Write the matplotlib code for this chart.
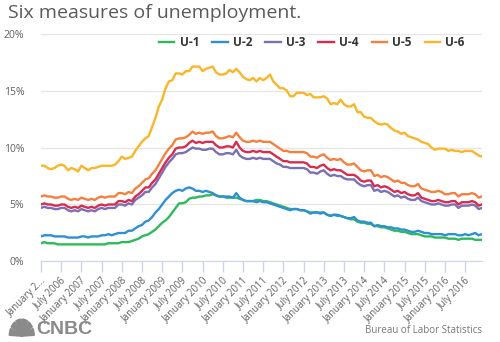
import matplotlib.pyplot as plt
from matplotlib.patches import Wedge
import pandas as pd

# Monthly rates, January 2006 - December 2016 (percent)
u1 = [1.6, 1.7, 1.6, 1.6, 1.6, 1.5, 1.5, 1.5, 1.5, 1.5, 1.5, 1.5,
      1.5, 1.5, 1.5, 1.5, 1.5, 1.5, 1.5, 1.5, 1.6, 1.6, 1.6, 1.6,
      1.7, 1.7, 1.7, 1.8, 1.9, 2.0, 2.2, 2.3, 2.4, 2.6, 2.8, 3.1,
      3.4, 3.6, 3.9, 4.3, 4.7, 5.1, 5.1, 5.2, 5.5, 5.6, 5.6, 5.7,
      5.7, 5.8, 5.8, 5.9, 5.8, 5.7, 5.7, 5.6, 5.6, 5.6, 5.6, 5.5,
      5.4, 5.3, 5.3, 5.3, 5.4, 5.4, 5.3, 5.3, 5.2, 5.1, 5.0, 4.9,
      4.8, 4.7, 4.6, 4.6, 4.6, 4.5, 4.5, 4.4, 4.3, 4.3, 4.3, 4.3,
      4.3, 4.1, 4.0, 4.1, 4.0, 4.0, 3.9, 3.8, 3.7, 3.7, 3.5, 3.4,
      3.4, 3.3, 3.3, 3.1, 3.1, 3.0, 3.0, 2.9, 2.8, 2.7, 2.7, 2.6,
      2.6, 2.5, 2.4, 2.4, 2.4, 2.3, 2.2, 2.2, 2.2, 2.1, 2.1, 2.1,
      2.1, 2.0, 2.0, 2.0, 1.9, 2.0, 2.0, 2.0, 2.0, 1.9, 1.9, 1.9]

u2 = [2.2, 2.3, 2.3, 2.3, 2.2, 2.2, 2.2, 2.2, 2.1, 2.1, 2.1, 2.1,
      2.2, 2.2, 2.1, 2.2, 2.2, 2.2, 2.3, 2.3, 2.4, 2.3, 2.4, 2.5,
      2.5, 2.5, 2.7, 2.7, 2.9, 3.1, 3.2, 3.5, 3.6, 3.9, 4.3, 4.6,
      5.0, 5.4, 5.7, 6.0, 6.2, 6.3, 6.2, 6.4, 6.5, 6.4, 6.2, 6.2,
      6.1, 6.2, 6.1, 6.0, 5.8, 5.7, 5.7, 5.7, 5.7, 5.6, 6.0, 5.6,
      5.4, 5.3, 5.3, 5.3, 5.2, 5.3, 5.2, 5.2, 5.1, 5.0, 4.9, 4.8,
      4.7, 4.6, 4.5, 4.6, 4.6, 4.5, 4.5, 4.4, 4.2, 4.3, 4.3, 4.2,
      4.3, 4.1, 4.0, 4.1, 4.1, 4.0, 3.9, 3.8, 3.8, 3.9, 3.6, 3.5,
      3.5, 3.4, 3.4, 3.1, 3.2, 3.1, 3.1, 3.0, 3.0, 2.9, 2.9, 2.8,
      2.8, 2.7, 2.6, 2.6, 2.7, 2.6, 2.5, 2.5, 2.4, 2.4, 2.4, 2.4,
      2.3, 2.4, 2.4, 2.4, 2.3, 2.3, 2.4, 2.3, 2.4, 2.5, 2.3, 2.4]

u3 = [4.7, 4.8, 4.7, 4.7, 4.6, 4.6, 4.7, 4.7, 4.5, 4.4, 4.5, 4.4,
      4.6, 4.5, 4.4, 4.5, 4.4, 4.6, 4.7, 4.6, 4.7, 4.7, 4.7, 5.0,
      5.0, 4.9, 5.1, 5.0, 5.4, 5.6, 5.8, 6.1, 6.1, 6.5, 6.8, 7.3,
      7.8, 8.3, 8.7, 9.0, 9.4, 9.5, 9.5, 9.6, 9.8, 10.0, 9.9, 9.9,
      9.8, 9.8, 9.9, 9.9, 9.6, 9.4, 9.4, 9.5, 9.5, 9.4, 9.8, 9.3,
      9.1, 9.0, 9.0, 9.1, 9.0, 9.1, 9.0, 9.0, 9.0, 8.8, 8.6, 8.5,
      8.3, 8.3, 8.2, 8.2, 8.2, 8.2, 8.2, 8.1, 7.8, 7.8, 7.7, 7.9,
      8.0, 7.7, 7.5, 7.6, 7.5, 7.5, 7.3, 7.2, 7.2, 7.2, 6.9, 6.7,
      6.6, 6.7, 6.7, 6.2, 6.3, 6.1, 6.2, 6.1, 5.9, 5.7, 5.8, 5.6,
      5.7, 5.5, 5.4, 5.4, 5.6, 5.3, 5.2, 5.1, 5.0, 5.0, 5.1, 5.0,
      4.9, 4.9, 5.0, 5.0, 4.7, 4.9, 4.9, 4.9, 5.0, 4.9, 4.6, 4.7]

u4 = [5.0, 5.1, 5.0, 5.0, 4.9, 4.9, 5.0, 5.0, 4.8, 4.7, 4.8, 4.7,
      4.9, 4.8, 4.7, 4.8, 4.7, 4.9, 5.0, 4.9, 5.0, 5.0, 5.0, 5.3,
      5.3, 5.2, 5.4, 5.3, 5.7, 5.9, 6.2, 6.5, 6.5, 6.9, 7.2, 7.7,
      8.2, 8.7, 9.1, 9.4, 9.9, 10.0, 10.0, 10.1, 10.4, 10.6, 10.4, 10.5,
      10.4, 10.5, 10.5, 10.5, 10.2, 10.0, 10.0, 10.1, 10.1, 10.0, 10.5, 10.0,
      9.7, 9.6, 9.6, 9.7, 9.6, 9.7, 9.6, 9.6, 9.6, 9.4, 9.2, 9.0,
      8.8, 8.8, 8.7, 8.7, 8.7, 8.7, 8.7, 8.6, 8.3, 8.3, 8.2, 8.4,
      8.5, 8.2, 8.0, 8.1, 8.0, 8.0, 7.8, 7.6, 7.6, 7.6, 7.4, 7.1,
      7.0, 7.1, 7.1, 6.6, 6.7, 6.5, 6.6, 6.5, 6.3, 6.1, 6.2, 6.0,
      6.1, 5.9, 5.8, 5.8, 6.0, 5.6, 5.5, 5.4, 5.3, 5.3, 5.4, 5.3,
      5.2, 5.2, 5.3, 5.3, 5.0, 5.2, 5.2, 5.2, 5.3, 5.2, 4.9, 5.0]

u5 = [5.7, 5.8, 5.7, 5.7, 5.6, 5.6, 5.7, 5.7, 5.5, 5.4, 5.5, 5.4,
      5.6, 5.5, 5.4, 5.5, 5.4, 5.6, 5.7, 5.6, 5.7, 5.7, 5.7, 6.0,
      6.0, 5.9, 6.1, 6.0, 6.4, 6.6, 6.9, 7.2, 7.3, 7.7, 8.0, 8.5,
      9.0, 9.5, 9.9, 10.2, 10.7, 10.8, 10.8, 10.9, 11.1, 11.4, 11.2, 11.3,
      11.2, 11.3, 11.3, 11.4, 11.0, 10.8, 10.8, 10.9, 11.0, 10.9, 11.3, 10.9,
      10.6, 10.5, 10.5, 10.6, 10.5, 10.6, 10.5, 10.5, 10.5, 10.3, 10.1, 9.9,
      9.7, 9.7, 9.6, 9.6, 9.6, 9.6, 9.6, 9.5, 9.2, 9.2, 9.1, 9.3,
      9.4, 9.1, 8.9, 9.0, 8.9, 9.0, 8.7, 8.5, 8.5, 8.6, 8.3, 8.0,
      7.9, 8.0, 8.0, 7.5, 7.6, 7.4, 7.5, 7.4, 7.2, 7.0, 7.1, 6.9,
      6.9, 6.7, 6.6, 6.6, 6.8, 6.4, 6.3, 6.2, 6.1, 6.1, 6.2, 6.1,
      5.9, 5.9, 6.0, 6.0, 5.7, 5.9, 5.9, 5.9, 6.0, 5.9, 5.6, 5.7]

u6 = [8.4, 8.4, 8.2, 8.1, 8.2, 8.4, 8.5, 8.4, 8.0, 8.2, 8.1, 7.9,
      8.4, 8.2, 8.0, 8.2, 8.2, 8.3, 8.4, 8.4, 8.4, 8.4, 8.5, 8.8,
      9.2, 9.0, 9.1, 9.2, 9.7, 10.1, 10.5, 10.8, 11.0, 11.8, 12.6, 13.6,
      14.2, 15.2, 15.8, 15.9, 16.5, 16.5, 16.4, 16.7, 16.7, 17.1, 17.1, 17.1,
      16.7, 16.9, 17.0, 17.1, 16.6, 16.4, 16.4, 16.5, 16.8, 16.6, 16.9, 16.6,
      16.2, 16.0, 15.9, 16.1, 15.8, 16.1, 15.9, 16.1, 16.4, 15.8, 15.5, 15.2,
      15.2, 15.0, 14.5, 14.5, 14.8, 14.8, 14.8, 14.6, 14.7, 14.4, 14.4, 14.4,
      14.5, 14.3, 13.8, 13.9, 13.8, 14.2, 13.8, 13.6, 13.6, 13.8, 13.1, 13.1,
      12.7, 12.6, 12.6, 12.3, 12.1, 12.0, 12.1, 12.0, 11.7, 11.5, 11.4, 11.2,
      11.3, 11.0, 10.9, 10.8, 10.7, 10.5, 10.4, 10.3, 10.0, 9.8, 9.9, 9.9,
      9.9, 9.7, 9.8, 9.7, 9.7, 9.6, 9.7, 9.7, 9.7, 9.5, 9.3, 9.2]

series = [("U-1", u1, "#2dba5a"), ("U-2", u2, "#2f8fd5"), ("U-3", u3, "#7b6fb6"),
          ("U-4", u4, "#d72c4f"), ("U-5", u5, "#f5803e"), ("U-6", u6, "#fbb528")]

tick_labels = ["January 2...", "July 2006", "January 2007", "July 2007",
               "January 2008", "July 2008", "January 2009", "July 2009",
               "January 2010", "July 2010", "January 2011", "July 2011",
               "January 2012", "July 2012", "January 2013", "July 2013",
               "January 2014", "July 2014", "January 2015", "July 2015",
               "January 2016", "July 2016"]

months = pd.date_range("2006-01-01", periods=len(u1), freq="MS")
x = range(len(months))

plt.rcParams['font.family'] = ['Open Sans', 'DejaVu Sans']
fig = plt.figure(figsize=(5, 3.42), dpi=100)
ax = fig.add_axes([0.082, 0.2354, 0.882, 0.6666])

for name, vals, color in series:
    ax.plot(x, vals, color=color, lw=1.7, label=name, solid_joinstyle='round')

ax.set_xlim(0, len(months) - 1)
ax.set_ylim(0, 20)
ax.set_yticks([0, 5, 10, 15, 20])
ax.set_yticklabels(["0%", "5%", "10%", "15%", "20%"], fontsize=7.5, color="#606060")
ax.tick_params(axis='y', length=0, pad=12)
ax.yaxis.grid(True, color="#e6e6e6", lw=1)
ax.set_axisbelow(True)

ax.set_xticks(range(0, len(months), 6))
ax.set_xticklabels(tick_labels, rotation=45, ha='right', rotation_mode='anchor',
                   fontsize=7, color="#606060")
ax.tick_params(axis='x', length=8, color="#ccd6eb", width=1, pad=2)

for side in ['top', 'right', 'left']:
    ax.spines[side].set_visible(False)
ax.spines['bottom'].set_color("#ccd6eb")

leg = ax.legend(loc='upper right', bbox_to_anchor=(0.985, 1.035), ncol=6, frameon=False,
                handlelength=1.3, handletextpad=0.45, columnspacing=1.1,
                prop={'weight': 'bold', 'size': 8.5})
for t in leg.get_texts():
    t.set_color("#333333")

fig.text(0.016, 0.962, "Six measures of unemployment.", fontsize=14, color="#5a5a5a",
         va='center', ha='left')
fig.text(0.964, 0.035, "Bureau of Labor Statistics", fontsize=7, color="#777777",
         ha='right', va='center')

# CNBC mark: grey peacock fan plus wordmark
logo = fig.add_axes([0.016, 0.012, 0.055, 0.06])
logo.set_xlim(-1.1, 1.1)
logo.set_ylim(-0.1, 1.1)
logo.axis('off')
for i in range(6):
    a0 = 180 - i * 30
    logo.add_patch(Wedge((0, 0), 1.0, a0 - 27, a0 - 3, color="#8a8a8a"))
fig.text(0.072, 0.038, "CNBC", fontsize=14, fontweight='bold', color="#8a8a8a",
         family='Liberation Sans', ha='left', va='center')

fig.savefig("out.png", dpi=100)
